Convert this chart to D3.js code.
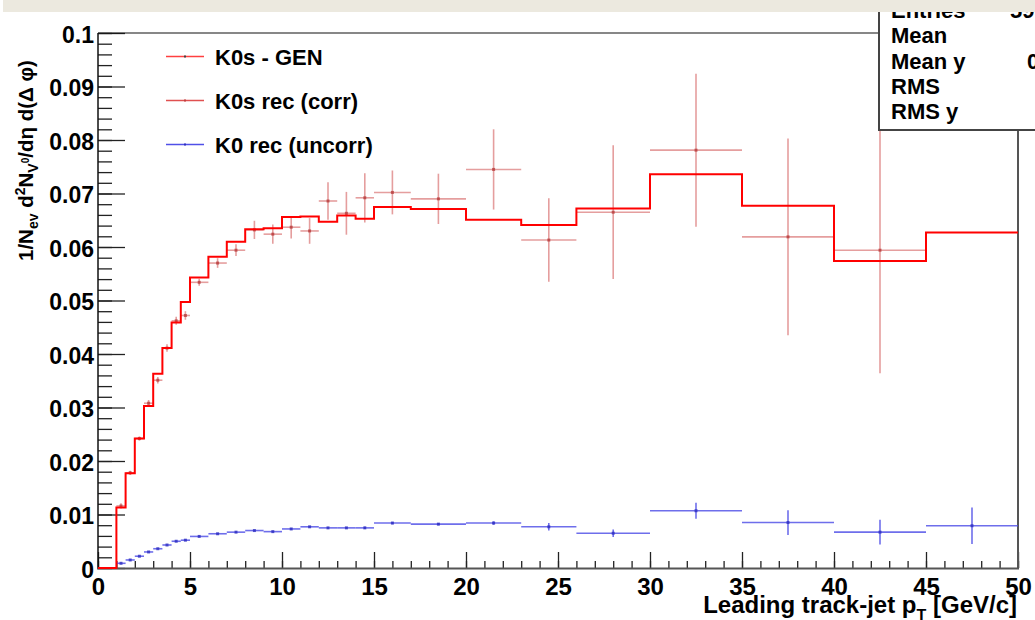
<!DOCTYPE html>
<html>
<head>
<meta charset="utf-8">
<script src="https://cdn.jsdelivr.net/npm/d3@7"></script>
<style>
  body { margin: 0; background: #fff; }
  text { font-family: "Liberation Sans", Arial, sans-serif; font-weight: bold; fill: #000; }
</style>
</head>
<body>
<script>
var width = 1035, height = 620

// bin edges of the histograms (GeV/c)
var edges = [0, 1, 1.5, 2, 2.5, 3, 3.5, 4, 4.5, 5, 6, 7, 8, 9, 10, 11, 12, 13, 14, 15, 17, 20, 23, 26, 30, 35, 40, 45, 50]

// K0s - GEN (histogram line)
var gen = [0, 0.0113, 0.0177, 0.0242, 0.0303, 0.0363, 0.0411, 0.0459, 0.0497, 0.0543, 0.0582, 0.0610, 0.0633, 0.0635,
  0.0656, 0.0657, 0.0647, 0.0659, 0.0653, 0.0675, 0.0671, 0.0651, 0.0641, 0.0672, 0.0736, 0.0677, 0.0574, 0.0627]

// K0s rec (corr)
var corr = [null, 0.0116, 0.0178, 0.0242, 0.0308, 0.0351, 0.0411, 0.0462, 0.0472, 0.0534, 0.0570, 0.0594, 0.0632, 0.0624,
  0.0637, 0.0630, 0.0686, 0.0663, 0.0692, 0.0702, 0.0690, 0.0745, 0.0613, 0.0665, 0.0781, 0.0619, 0.0594, null]
var corrErr = [0, 0.0005, 0.0004, 0.0004, 0.0006, 0.0006, 0.0007, 0.00075, 0.0008, 0.00065, 0.0009, 0.0011, 0.0017, 0.0018,
  0.0021, 0.0024, 0.0035, 0.0040, 0.0046, 0.0041, 0.0047, 0.0075, 0.0078, 0.0125, 0.0143, 0.0184, 0.0230, 0]

// K0 rec (uncorr)
var uncorr = [null, 0.00088, 0.0015, 0.0022, 0.0030, 0.0036, 0.0043, 0.0050, 0.0052, 0.0059, 0.0064, 0.0067, 0.0070, 0.0068,
  0.0073, 0.0077, 0.0075, 0.0075, 0.0075, 0.0084, 0.0082, 0.0084, 0.0077, 0.0065, 0.0107, 0.0085, 0.0067, 0.0079]
var uncorrErr = [0, 0.0002, 0.0002, 0.0002, 0.0002, 0.0002, 0.0002, 0.0003, 0.0003, 0.0003, 0.0003, 0.0003, 0.0003, 0.0003,
  0.0003, 0.0003, 0.0003, 0.0003, 0.0004, 0.0004, 0.0004, 0.0005, 0.0009, 0.0009, 0.0017, 0.0025, 0.0025, 0.0036]

var xTicks = [0, 5, 10, 15, 20, 25, 30, 35, 40, 45, 50]
var yTicks = [0, 0.01, 0.02, 0.03, 0.04, 0.05, 0.06, 0.07, 0.08, 0.09, 0.1]
var yTickLabels = ["0", "0.01", "0.02", "0.03", "0.04", "0.05", "0.06", "0.07", "0.08", "0.09", "0.1"]

var legendNames = ["K0s - GEN", "K0s rec (corr)", "K0 rec (uncorr)"]
var statNames = ["Entries", "Mean", "Mean y", "RMS", "RMS y"]

var svg = d3.select("body").append("svg")
  .attr("width", width)
  .attr("height", height)

var x = d3.scaleLinear().domain([0, 50]).range([98, 1018])
var y = d3.scaleLinear().domain([0, 0.1]).range([568, 33])

// bins as objects
var bins = gen.map(function(g, i) {
  return { lo: edges[i], hi: edges[i + 1], gen: g, corr: corr[i], corrErr: corrErr[i], uncorr: uncorr[i], uncorrErr: uncorrErr[i] }
})

// minor + major ticks, pointing inward (ROOT style)
var minorY = d3.range(0, 0.1001, 0.002)
svg.append("g").attr("transform", "translate(98,0)")
  .call(d3.axisLeft(y).tickValues(minorY).tickSize(-14).tickFormat(""))
svg.append("g").attr("class", "yaxis").attr("transform", "translate(98,0)")
  .call(d3.axisLeft(y).tickValues(yTicks).tickSize(-27).tickPadding(5)
    .tickFormat(function(d, i) { return yTickLabels[i] }))

svg.append("g").attr("transform", "translate(0,568)")
  .call(d3.axisBottom(x).tickValues(d3.range(0, 51, 1)).tickSize(-7).tickFormat(""))
svg.append("g").attr("class", "xaxis").attr("transform", "translate(0,568)")
  .call(d3.axisBottom(x).tickValues(xTicks).tickSize(-16).tickPadding(5))

svg.selectAll(".domain").remove()
svg.selectAll(".tick line").attr("stroke", "#222").attr("stroke-width", 1.3)
svg.selectAll(".yaxis text").style("font-size", "23px").attr("dy", "0.4em").attr("x", -4)
svg.selectAll(".xaxis text").style("font-size", "24px").attr("dy", "0.9em")

// frame
svg.append("line").attr("x1", 98).attr("x2", 98).attr("y1", 33).attr("y2", 569).attr("stroke", "#111").attr("stroke-width", 1.5)
svg.append("line").attr("x1", 98).attr("x2", 1018).attr("y1", 33).attr("y2", 33).attr("stroke", "#111").attr("stroke-width", 1.2)
svg.append("line").attr("x1", 1018).attr("x2", 1018).attr("y1", 33).attr("y2", 569).attr("stroke", "#555").attr("stroke-width", 2)
svg.append("line").attr("x1", 97).attr("x2", 1019).attr("y1", 568.5).attr("y2", 568.5).attr("stroke", "#555").attr("stroke-width", 2)

// K0s rec (corr) error bars
var corrCol = "#cc3d3d"
var cg = svg.append("g").attr("stroke", corrCol).attr("stroke-opacity", 0.5).attr("stroke-width", 1.6)
var cb = bins.filter(function(d) { return d.corr != null })
cg.selectAll(".h").data(cb).enter().append("line")
  .attr("x1", function(d) { return x(d.lo) }).attr("x2", function(d) { return x(d.hi) })
  .attr("y1", function(d) { return y(d.corr) }).attr("y2", function(d) { return y(d.corr) })
cg.selectAll(".v").data(cb).enter().append("line")
  .attr("x1", function(d) { return x((d.lo + d.hi) / 2) }).attr("x2", function(d) { return x((d.lo + d.hi) / 2) })
  .attr("y1", function(d) { return y(d.corr - d.corrErr) }).attr("y2", function(d) { return y(d.corr + d.corrErr) })
svg.append("g").selectAll("rect").data(cb).enter().append("rect")
  .attr("x", function(d) { return x((d.lo + d.hi) / 2) - 1.5 }).attr("y", function(d) { return y(d.corr) - 1.5 })
  .attr("width", 3).attr("height", 3).attr("fill", "#b84040").attr("opacity", 0.8)

// K0 rec (uncorr) error bars
var blueCol = "#4a4ae6"
var bg = svg.append("g").attr("stroke", blueCol).attr("stroke-opacity", 0.8).attr("stroke-width", 1.6)
var ub = bins.filter(function(d) { return d.uncorr != null })
bg.selectAll(".h").data(ub).enter().append("line")
  .attr("x1", function(d) { return x(d.lo) }).attr("x2", function(d) { return x(d.hi) })
  .attr("y1", function(d) { return y(d.uncorr) }).attr("y2", function(d) { return y(d.uncorr) })
bg.selectAll(".v").data(ub).enter().append("line")
  .attr("x1", function(d) { return x((d.lo + d.hi) / 2) }).attr("x2", function(d) { return x((d.lo + d.hi) / 2) })
  .attr("y1", function(d) { return y(d.uncorr - d.uncorrErr) - 1 }).attr("y2", function(d) { return y(d.uncorr + d.uncorrErr) + 1 })
svg.append("g").selectAll("rect").data(ub).enter().append("rect")
  .attr("x", function(d) { return x((d.lo + d.hi) / 2) - 1.5 }).attr("y", function(d) { return y(d.uncorr) - 1.5 })
  .attr("width", 3).attr("height", 3).attr("fill", "#3030c0").attr("opacity", 0.8)

// K0s - GEN step histogram
var stepPts = []
bins.forEach(function(d) { stepPts.push([d.lo, d.gen]); stepPts.push([d.hi, d.gen]) })
svg.append("path").datum(stepPts)
  .attr("d", d3.line().x(function(d) { return x(d[0]) }).y(function(d) { return y(d[1]) }))
  .attr("fill", "none").attr("stroke", "#ff0000").attr("stroke-width", 2)

// legend
var legCols = ["#ff4040", "#e05050", "#5050e8"]
var legMark = ["#444", "#c04040", "#3030c0"]
var leg = svg.append("g").selectAll("g").data(legendNames).enter().append("g")
  .attr("transform", function(d, i) { return "translate(0," + (56.5 + i * 44) + ")" })
leg.append("line").attr("x1", 166).attr("x2", 204)
  .attr("stroke", function(d, i) { return legCols[i] }).attr("stroke-width", 1.6)
leg.append("rect").attr("x", 184).attr("y", -1).attr("width", 2).attr("height", 2)
  .attr("fill", function(d, i) { return legMark[i] })
leg.append("text").attr("x", 215).attr("y", 8).style("font-size", "22px").text(function(d) { return d })

// y title
var yt = svg.append("text").attr("transform", "rotate(-90)").attr("x", -261).attr("y", 33).style("font-size", "20.5px")
yt.append("tspan").text("1/N")
yt.append("tspan").attr("dy", 5).style("font-size", "14px").text("ev")
yt.append("tspan").attr("dy", -5).text(" d")
yt.append("tspan").attr("dy", -8).style("font-size", "14px").text("2")
yt.append("tspan").attr("dy", 8).text("N")
yt.append("tspan").attr("dy", 5).style("font-size", "14px").text("V")
yt.append("tspan").attr("dy", -9).style("font-size", "10px").text("0")
yt.append("tspan").attr("dy", 4).text("/d\u03b7 d(\u0394 \u03c6)")

// x title
var xt = svg.append("text").attr("x", 1017).attr("y", 613).attr("text-anchor", "end").style("font-size", "24px")
xt.append("tspan").text("Leading track-jet p")
xt.append("tspan").attr("dy", 8).style("font-size", "16px").text("T")
xt.append("tspan").attr("dy", -8).text(" [GeV/c]")

// stats box (cut by the window)
svg.append("rect").attr("x", 879).attr("y", -10).attr("width", 200).attr("height", 140)
  .attr("fill", "#fff").attr("stroke", "#444").attr("stroke-width", 2)
svg.append("g").selectAll("text").data(statNames).enter().append("text")
  .attr("x", 891).attr("y", function(d, i) { return 18 + i * 25.3 })
  .style("font-size", "22px").text(function(d) { return d })
svg.append("text").attr("x", 1010).attr("y", 18).style("font-size", "22px").text("5905")
svg.append("text").attr("x", 1027).attr("y", 68.6).style("font-size", "22px").text("0.06")

// top band of the page
svg.append("rect").attr("x", 3).attr("y", 0).attr("width", width).attr("height", 12).attr("fill", "#ecE9df")
</script>
</body>
</html>
